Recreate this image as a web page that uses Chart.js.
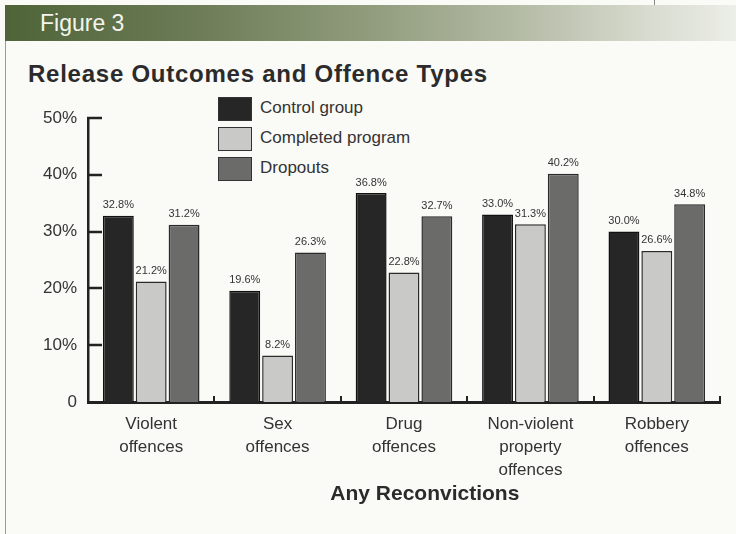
<!DOCTYPE html>
<html>
<head>
<meta charset="utf-8">
<script src="https://cdn.jsdelivr.net/npm/chart.js@4.4.0/dist/chart.umd.min.js"></script>
<style>
  body { margin: 0; background: #fafaf7; }
  #wrap { position: relative; width: 736px; height: 534px; background: #fafaf7; overflow: hidden; }
  #head { position: absolute; left: 5px; top: 5px; width: 731px; height: 36px;
    background: linear-gradient(to right, #4f6438 0%, #6b7b55 25%, #919c7d 50%, #b7bea9 72%, #d8dbcf 88%, #eceee8 100%); }
  #head span { position: absolute; left: 35px; top: 5px; color: #f4f4ee;
    font: 23px "Liberation Sans", Arial, sans-serif; }
  #edge { position: absolute; left: 5px; top: 41px; width: 1px; height: 493px; background: #9a9a95; }
  #notch { position: absolute; left: 654px; top: 0; width: 1px; height: 5px; background: #888; }
  #title { position: absolute; left: 28px; top: 60px; color: #2b2b2b; letter-spacing: 0.75px;
    font: bold 24px "Liberation Sans", Arial, sans-serif; }
  .leg { position: absolute; left: 218px; height: 24px; }
  .leg i { position: absolute; left: 0; top: 0; width: 32px; height: 22px; border: 1px solid #333; }
  .leg span { position: absolute; left: 42px; top: 1px; white-space: nowrap; color: #333;
    font: 17px "Liberation Sans", Arial, sans-serif; }
  canvas { position: absolute; left: 0; top: 0; }
</style>
</head>
<body>
<div id="wrap">
  <div id="head"><span>Figure 3</span></div>
  <div id="notch"></div>
  <div id="edge"></div>
  <div id="title">Release Outcomes and Offence Types</div>
  <div id="legend"></div>
  <canvas id="myChart" width="736" height="534"></canvas>
</div>
<script>
var categories = [
  ["Violent", "offences"],
  ["Sex", "offences"],
  ["Drug", "offences"],
  ["Non-violent", "property", "offences"],
  ["Robbery", "offences"]
];
var seriesNames = ["Control group", "Completed program", "Dropouts"];
var controlGroup = [32.8, 19.6, 36.8, 33.0, 30.0];
var completedProgram = [21.2, 8.2, 22.8, 31.3, 26.6];
var dropouts = [31.2, 26.3, 32.7, 40.2, 34.8];
var yTicks = [0, 10, 20, 30, 40, 50];
var xTitle = "Any Reconvictions";

var colors = ["#262626", "#c9c9c7", "#6b6b6a"];
var sans = '"Liberation Sans", Arial, sans-serif';

// legend in plain html
var legendHtml = "";
seriesNames.forEach(function(name, i) {
  legendHtml += '<div class="leg" style="top:' + (97 + i * 30) + 'px"><i style="background:' + colors[i] + '"></i><span>' + name + '</span></div>';
});
document.getElementById("legend").innerHTML = legendHtml;

var decor = {
  id: "decor",
  afterDatasetsDraw: function(chart) {
    var ctx = chart.ctx, x = chart.scales.x, y = chart.scales.y, a = chart.chartArea;
    ctx.save();
    ctx.strokeStyle = "#222";
    ctx.lineWidth = 2.5;
    // y ticks point into the plot
    yTicks.forEach(function(v) {
      if (v === 0) return;
      var py = Math.round(y.getPixelForValue(v));
      ctx.beginPath(); ctx.moveTo(a.left - 1, py); ctx.lineTo(a.left + 14, py); ctx.stroke();
    });
    // little marks between categories
    ctx.lineWidth = 2;
    for (var i = 0; i < categories.length; i++) {
      var px = Math.round(x.getPixelForValue(i + 0.5));
      ctx.beginPath(); ctx.moveTo(px, a.bottom); ctx.lineTo(px, a.bottom - 6); ctx.stroke();
    }
    // value labels
    ctx.fillStyle = "#333";
    ctx.font = "11px " + sans;
    ctx.textAlign = "center";
    ctx.textBaseline = "bottom";
    chart.data.datasets.forEach(function(ds, di) {
      chart.getDatasetMeta(di).data.forEach(function(bar, j) {
        ctx.fillText(ds.data[j].toFixed(1) + "%", bar.x, bar.y - 5);
      });
    });
    // axis title sits a little right of centre in the original
    ctx.fillStyle = "#2b2b2b";
    ctx.font = "bold 21px " + sans;
    ctx.textBaseline = "alphabetic";
    ctx.fillText(xTitle, a.left + (a.right - a.left) * 0.533, 500);
    ctx.restore();
  }
};

var ctx = document.getElementById("myChart");
var myChart = new Chart(ctx, {
  type: "bar",
  data: {
    labels: categories,
    datasets: [
      { label: seriesNames[0], data: controlGroup, backgroundColor: colors[0], borderColor: "#111", borderWidth: 1.5 },
      { label: seriesNames[1], data: completedProgram, backgroundColor: colors[1], borderColor: "#2a2a2a", borderWidth: 1.5 },
      { label: seriesNames[2], data: dropouts, backgroundColor: colors[2], borderColor: "#2a2a2a", borderWidth: 1.5 }
    ]
  },
  options: {
    responsive: false,
    animation: false,
    categoryPercentage: 0.78,
    barPercentage: 0.94,
    layout: { padding: { left: 28, right: 16, top: 118, bottom: 0 } },
    plugins: { legend: { display: false }, tooltip: { enabled: false } },
    scales: {
      x: {
        grid: { display: false, drawTicks: false },
        border: { display: true, color: "#222", width: 3 },
        ticks: { color: "#333", padding: 11, font: { family: sans, size: 17, lineHeight: 1.35 } },
        afterFit: function(s) { s.height = 132; }
      },
      y: {
        min: 0, max: 50,
        grid: { display: false, drawTicks: false },
        border: { display: true, color: "#222", width: 2.5 },
        ticks: { stepSize: 10, padding: 11, color: "#333", font: { family: sans, size: 17 },
          callback: function(v) { return v === 0 ? "0" : v + "%"; } },
        afterFit: function(s) { s.width = 60; }
      }
    }
  },
  plugins: [decor]
});
</script>
</body>
</html>
